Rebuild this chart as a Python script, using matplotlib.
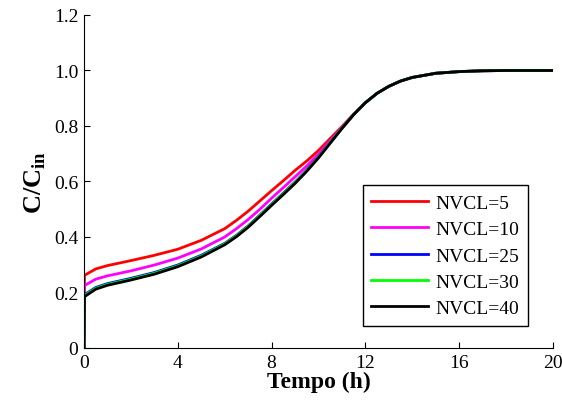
import matplotlib
matplotlib.use("Agg")
import matplotlib.pyplot as plt

plt.rcParams["font.family"] = ["Liberation Serif", "DejaVu Serif"]
plt.rcParams["mathtext.fontset"] = "custom"
plt.rcParams["mathtext.rm"] = "Liberation Serif"
plt.rcParams["mathtext.bf"] = "Liberation Serif:bold"

# time (h)
t = [0, 0.02, 0.5, 1, 2, 3, 4, 5, 6, 6.5, 7, 7.5, 8, 8.5, 9, 9.5, 10, 10.5,
     11, 11.5, 12, 12.5, 13, 13.5, 14, 15, 16, 17, 18, 20]

# C/Cin for each number of volumes of control (NVCL)
nvcl5 = [0, 0.262, 0.285, 0.297, 0.315, 0.334, 0.356, 0.388, 0.430, 0.460, 0.493,
         0.530, 0.567, 0.603, 0.640, 0.674, 0.712, 0.755, 0.798, 0.843, 0.884,
         0.918, 0.943, 0.962, 0.975, 0.990, 0.996, 0.999, 1.0, 1.0]
nvcl10 = [0, 0.225, 0.248, 0.260, 0.278, 0.299, 0.324, 0.357, 0.400, 0.430, 0.463,
          0.500, 0.540, 0.578, 0.617, 0.656, 0.699, 0.747, 0.795, 0.842, 0.884,
          0.918, 0.943, 0.962, 0.975, 0.990, 0.996, 0.999, 1.0, 1.0]
nvcl25 = [0, 0.192, 0.218, 0.232, 0.251, 0.272, 0.299, 0.334, 0.377, 0.406, 0.440,
          0.479, 0.519, 0.558, 0.598, 0.641, 0.689, 0.741, 0.792, 0.841, 0.884,
          0.918, 0.943, 0.962, 0.975, 0.990, 0.996, 0.999, 1.0, 1.0]
nvcl30 = [0, 0.189, 0.215, 0.229, 0.248, 0.269, 0.296, 0.331, 0.375, 0.404, 0.438,
          0.477, 0.517, 0.556, 0.596, 0.639, 0.687, 0.740, 0.792, 0.841, 0.884,
          0.918, 0.943, 0.962, 0.975, 0.990, 0.996, 0.999, 1.0, 1.0]
nvcl40 = [0, 0.185, 0.212, 0.226, 0.245, 0.266, 0.293, 0.328, 0.372, 0.401, 0.435,
          0.474, 0.514, 0.553, 0.593, 0.637, 0.685, 0.738, 0.791, 0.841, 0.884,
          0.918, 0.943, 0.962, 0.975, 0.990, 0.996, 0.999, 1.0, 1.0]

series = [
    ("NVCL=5", nvcl5, "#ff0000"),
    ("NVCL=10", nvcl10, "#ff00ff"),
    ("NVCL=25", nvcl25, "#0000ff"),
    ("NVCL=30", nvcl30, "#00ff00"),
    ("NVCL=40", nvcl40, "#000000"),
]

fig = plt.figure(figsize=(5.62, 4.06), dpi=100)
ax = fig.add_axes([0.1495, 0.1404, 0.8345, 0.8202])

for label, y, c in series:
    ax.plot(t, y, color=c, lw=2, label=label)

ax.set_xlim(0, 20)
ax.set_ylim(0, 1.2)
ax.set_xticks([0, 4, 8, 12, 16, 20])
ax.set_yticks([0, 0.2, 0.4, 0.6, 0.8, 1.0, 1.2])
ax.set_yticklabels(["0", "0.2", "0.4", "0.6", "0.8", "1.0", "1.2"])
ax.tick_params(direction="in", length=4, labelsize=14, pad=4)
ax.spines["top"].set_visible(False)
ax.spines["right"].set_visible(False)

ax.set_xlabel("Tempo (h)", fontsize=17, fontweight="bold", labelpad=0)
ax.set_ylabel(r"C/C$_{\mathbf{in}}$", fontsize=19, fontweight="bold", labelpad=4)

leg = ax.legend(loc="lower right", bbox_to_anchor=(0.947, 0.066), fontsize=14,
                fancybox=False, framealpha=1, edgecolor="black",
                handlelength=2.9, handletextpad=0.4, borderpad=0.45,
                labelspacing=0.45, borderaxespad=0)
leg.get_frame().set_linewidth(1.0)

fig.savefig("out.png", dpi=100)
